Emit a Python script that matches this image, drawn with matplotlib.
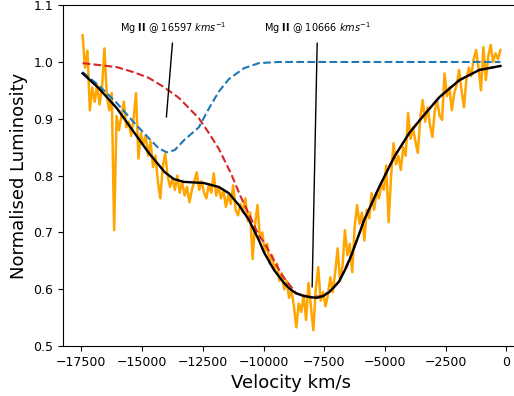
import matplotlib
matplotlib.use('Agg')
import matplotlib.pyplot as plt

# observed spectrum (velocity in km/s, normalised flux)
vel = [-17450, -17350, -17250, -17150, -17050, -16950, -16850, -16750, -16650, -16550,
       -16450, -16350, -16250, -16150, -16050, -15950, -15850, -15750, -15650, -15550,
       -15450, -15350, -15250, -15150, -15050, -14950, -14850, -14750, -14650, -14550,
       -14450, -14350, -14250, -14150, -14050, -13950, -13850, -13750, -13650, -13550,
       -13450, -13350, -13250, -13150, -13050, -12950, -12850, -12750, -12650, -12550,
       -12450, -12350, -12250, -12150, -12050, -11950, -11850, -11750, -11650, -11550,
       -11450, -11350, -11250, -11150, -11050, -10950, -10850, -10750, -10650, -10550,
       -10450, -10350, -10250, -10150, -10050, -9950, -9850, -9750, -9650, -9550,
       -9450, -9350, -9250, -9150, -9050, -8950, -8850, -8750, -8650, -8550,
       -8450, -8350, -8250, -8150, -8050, -7950, -7850, -7750, -7650, -7550,
       -7450, -7350, -7250, -7150, -7050, -6950, -6850, -6750, -6650, -6550,
       -6450, -6350, -6250, -6150, -6050, -5950, -5850, -5750, -5650, -5550,
       -5450, -5350, -5250, -5150, -5050, -4950, -4850, -4750, -4650, -4550,
       -4450, -4350, -4250, -4150, -4050, -3950, -3850, -3750, -3650, -3550,
       -3450, -3350, -3250, -3150, -3050, -2950, -2850, -2750, -2650, -2550,
       -2450, -2350, -2250, -2150, -2050, -1950, -1850, -1750, -1650, -1550,
       -1450, -1350, -1250, -1150, -1050, -950, -850, -750, -650, -550,
       -450, -350, -250]
flux = [1.047, 0.990, 1.020, 0.915, 0.955, 0.930, 0.960, 0.925, 0.955, 1.024,
        0.940, 0.915, 0.945, 0.704, 0.905, 0.880, 0.905, 0.930, 0.885, 0.895,
        0.870, 0.900, 0.945, 0.830, 0.875, 0.855, 0.870, 0.835, 0.860, 0.815,
        0.835, 0.790, 0.760, 0.815, 0.839, 0.800, 0.780, 0.795, 0.775, 0.800,
        0.770, 0.790, 0.765, 0.780, 0.753, 0.775, 0.790, 0.806, 0.775, 0.790,
        0.770, 0.760, 0.785, 0.770, 0.804, 0.765, 0.780, 0.760, 0.775, 0.745,
        0.765, 0.750, 0.783, 0.740, 0.730, 0.750, 0.735, 0.760, 0.720, 0.735,
        0.653, 0.715, 0.748, 0.690, 0.700, 0.665, 0.680, 0.645, 0.660, 0.635,
        0.645, 0.615, 0.628, 0.600, 0.615, 0.585, 0.598, 0.570, 0.533, 0.575,
        0.560, 0.590, 0.546, 0.611, 0.570, 0.528, 0.600, 0.639, 0.580, 0.595,
        0.570, 0.590, 0.621, 0.595, 0.630, 0.672, 0.615, 0.640, 0.704, 0.660,
        0.680, 0.630, 0.710, 0.748, 0.715, 0.735, 0.686, 0.740, 0.725, 0.769,
        0.740, 0.770, 0.760, 0.785, 0.775, 0.818, 0.718, 0.800, 0.857, 0.820,
        0.835, 0.810, 0.850, 0.835, 0.910, 0.865, 0.885, 0.860, 0.840, 0.900,
        0.933, 0.895, 0.920, 0.890, 0.868, 0.915, 0.930, 0.905, 0.898, 0.980,
        0.940, 0.955, 0.915, 0.945, 0.960, 0.986, 0.950, 0.920, 0.970, 0.990,
        0.975, 1.005, 1.021, 0.990, 0.950, 1.026, 0.968, 1.010, 1.030, 1.000,
        1.015, 1.005, 1.021]

# total fit
fit_v = [-17449, -16789, -16046, -15345, -14726, -14066, -13695, -13283, -12871, -12458,
         -11839, -11426, -11014, -10601, -10189, -9983, -9570, -9158, -8900, -8663,
         -8333, -8044, -7796, -7550, -7301, -7050, -6889, -6600, -6394, -6100,
         -5858, -5239, -4620, -4001, -3465, -2764, -1939, -1114, -248]
fit_f = [0.980, 0.954, 0.919, 0.877, 0.840, 0.806, 0.794, 0.789, 0.788, 0.787,
         0.780, 0.769, 0.748, 0.722, 0.686, 0.665, 0.634, 0.611, 0.600, 0.593,
         0.588, 0.586, 0.585, 0.588, 0.595, 0.606, 0.614, 0.638, 0.659, 0.693,
         0.722, 0.780, 0.833, 0.875, 0.903, 0.938, 0.968, 0.986, 0.993]

# Mg II component at ~10666 km/s
red_v = [-17449, -16046, -15345, -14726, -14108, -13489, -13076, -12664, -12251, -11839,
         -11344, -10931, -10519, -10189, -9983, -9570, -9240, -8663, -8044, -7631,
         -7301, -6889, -6394, -5858, -5239, -4620, -4001, -3465, -2764, -1939,
         -1114, -248]
red_f = [0.998, 0.991, 0.982, 0.972, 0.956, 0.937, 0.919, 0.901, 0.875, 0.847,
         0.804, 0.762, 0.725, 0.694, 0.683, 0.651, 0.625, 0.593, 0.586, 0.588,
         0.595, 0.614, 0.659, 0.722, 0.780, 0.833, 0.875, 0.903, 0.938, 0.968,
         0.986, 0.993]

# Mg II component at ~16597 km/s
blue_v = [-17449, -16789, -16046, -15345, -14726, -14314, -13984, -13654, -13283, -12664,
          -12251, -11839, -11426, -10808, -10189, -9364, -248]
blue_f = [0.982, 0.959, 0.928, 0.894, 0.866, 0.848, 0.841, 0.845, 0.862, 0.885,
          0.918, 0.948, 0.970, 0.989, 0.998, 1.000, 1.000]

fig = plt.figure(figsize=(5.14, 3.96), dpi=100)
ax = fig.add_axes([0.1226, 0.126, 0.889, 0.861])

ax.plot(vel, flux, color='orange', lw=1.8, zorder=1)
ax.plot(red_v, red_f, '--', color='#d62728', lw=1.5, zorder=2)
ax.plot(blue_v, blue_f, '--', color='#1f77b4', lw=1.5, zorder=3)
ax.plot(fit_v, fit_f, color='black', lw=1.7, zorder=4)

ax.annotate('Mg $\\mathbf{II}$ @ 16597 $kms^{-1}$', xy=(-14000, 0.903), xytext=(-13700, 1.0595),
            ha='center', va='center', fontsize=7,
            arrowprops=dict(arrowstyle='-', color='black', lw=1, shrinkA=3, shrinkB=0))
ax.annotate('Mg $\\mathbf{II}$ @ 10666 $kms^{-1}$', xy=(-8000, 0.604), xytext=(-7780, 1.0595),
            ha='center', va='center', fontsize=7,
            arrowprops=dict(arrowstyle='-', color='black', lw=1, shrinkA=3, shrinkB=0))

ax.set_xlim(-18255, 555)
ax.set_ylim(0.5, 1.1)
ax.set_xticks([-17500, -15000, -12500, -10000, -7500, -5000, -2500, 0])
ax.tick_params(labelsize=9)
ax.set_xlabel('Velocity km/s', fontsize=13)
ax.set_ylabel('Normalised Luminosity', fontsize=13)

plt.savefig('out.png', dpi=100)
